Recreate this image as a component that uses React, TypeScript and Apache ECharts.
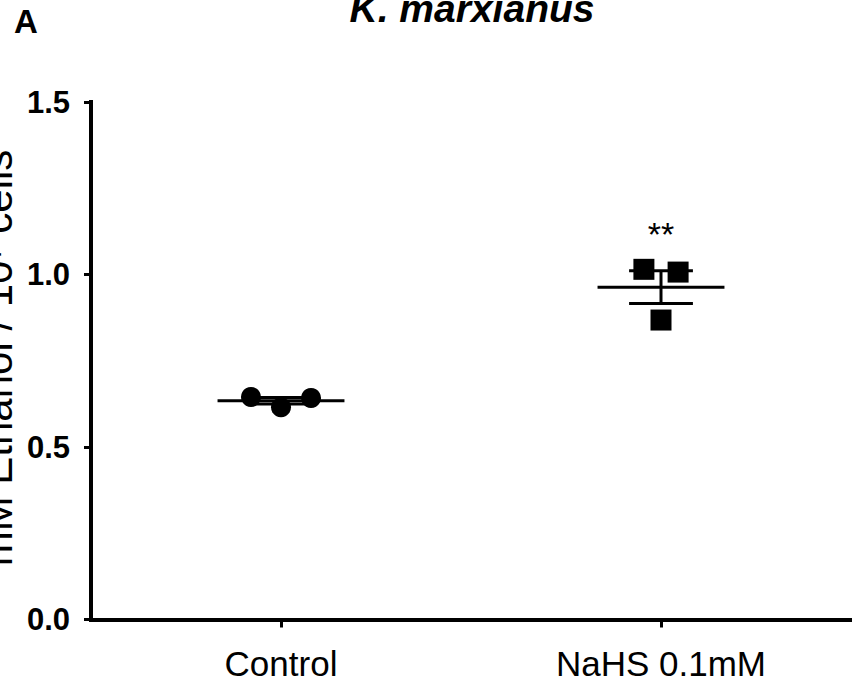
import React, { useEffect, useRef } from "react";
import * as echarts from "echarts";

const categories = ["Control", "NaHS 0.1mM"];
const controlValues = [0.645, 0.615, 0.642];
const nahsValues = [1.015, 1.007, 0.868];
const controlJitter = [-0.079, 0, 0.079];
const nahsJitter = [-0.045, 0.045, 0];
const significance = ["", "**"];
const significanceY = [0, 1.117];
const yTicks = [0, 0.5, 1.0, 1.5];

const FONT = '"Liberation Sans", Arial, sans-serif';

function meanSem(vals: number[]) {
  const n = vals.length;
  const m = vals.reduce((a, b) => a + b, 0) / n;
  const sd = Math.sqrt(vals.reduce((a, b) => a + (b - m) * (b - m), 0) / (n - 1));
  return [m, sd / Math.sqrt(n)];
}

export default function App() {
  const ref = useRef<HTMLDivElement>(null);
  useEffect(() => {
    document.body.style.margin = "0";
    const chart = echarts.init(ref.current!, null, { renderer: "svg" });
    const groups = [controlValues, nahsValues];
    const summary = groups.map((g, i) => {
      const [m, s] = meanSem(g);
      return [i, m, s];
    });
    chart.setOption({
      animation: false,
      grid: { left: 91, right: 1, top: 102, bottom: 64.5, containLabel: false },
      xAxis: [
        {
          type: "category",
          data: categories,
          boundaryGap: true,
          axisLine: { show: true, onZero: false, lineStyle: { color: "#000", width: 4, cap: "square" } },
          axisTick: { show: true, alignWithLabel: true, length: 8, lineStyle: { color: "#000", width: 3 } },
          axisLabel: { color: "#000", fontSize: 35, fontFamily: FONT, margin: 26 },
          splitLine: { show: false },
        },
        { type: "value", min: -0.5, max: 1.5, show: false },
      ],
      yAxis: {
        type: "value",
        min: yTicks[0],
        max: yTicks[yTicks.length - 1],
        interval: 0.5,
        axisLine: { show: true, onZero: false, lineStyle: { color: "#000", width: 4, cap: "square" } },
        axisTick: { show: true, length: 7, lineStyle: { color: "#000", width: 3 } },
        axisLabel: {
          color: "#000",
          fontSize: 31,
          fontWeight: "bold",
          fontFamily: FONT,
          margin: 21,
          formatter: (v: number) => v.toFixed(1),
        },
        splitLine: { show: false },
      },
      graphic: [
        {
          type: "text",
          x: 18,
          y: 358,
          rotation: Math.PI / 2,
          style: {
            text: "mM Ethanol / 10\u2077 cells",
            fontSize: 42,
            fontFamily: FONT,
            fill: "#000",
            align: "center",
            verticalAlign: "bottom",
          },
        },
        {
          type: "text",
          x: 472,
          y: 28,
          style: {
            text: "K. marxianus",
            fontSize: 39,
            fontWeight: "bold",
            fontStyle: "italic",
            fontFamily: FONT,
            fill: "#000",
            align: "center",
            verticalAlign: "bottom",
          },
        },
        {
          type: "text",
          x: 14,
          y: 38,
          style: {
            text: "A",
            fontSize: 33,
            fontWeight: "bold",
            fontFamily: FONT,
            fill: "#000",
            align: "left",
            verticalAlign: "bottom",
          },
        },
      ],
      series: [
        {
          type: "custom",
          xAxisIndex: 1,
          yAxisIndex: 0,
          data: summary,
          z: 1,
          renderItem: (params: any, api: any) => {
            const x = api.value(0);
            const m = api.value(1);
            const s = api.value(2);
            const halfMean = 0.167;
            const halfCap = 0.084;
            const l = api.coord([x - halfMean, m]);
            const r = api.coord([x + halfMean, m]);
            const t = api.coord([x, m + s]);
            const b = api.coord([x, m - s]);
            const tl = api.coord([x - halfCap, m + s]);
            const tr = api.coord([x + halfCap, m + s]);
            const bl = api.coord([x - halfCap, m - s]);
            const br = api.coord([x + halfCap, m - s]);
            const style = { stroke: "#000", lineWidth: 3 };
            return {
              type: "group",
              children: [
                { type: "line", shape: { x1: l[0], y1: l[1], x2: r[0], y2: r[1] }, style },
                { type: "line", shape: { x1: t[0], y1: t[1], x2: b[0], y2: b[1] }, style },
                { type: "line", shape: { x1: tl[0], y1: tl[1], x2: tr[0], y2: tr[1] }, style },
                { type: "line", shape: { x1: bl[0], y1: bl[1], x2: br[0], y2: br[1] }, style },
              ],
            };
          },
        },
        {
          type: "scatter",
          xAxisIndex: 1,
          z: 3,
          symbol: "circle",
          symbolSize: 20,
          itemStyle: { color: "#000", opacity: 1 },
          data: controlValues.map((v, i) => [0 + controlJitter[i], v]),
        },
        {
          type: "scatter",
          xAxisIndex: 1,
          z: 3,
          symbol: "rect",
          symbolSize: 21,
          itemStyle: { color: "#000", opacity: 1 },
          data: nahsValues.map((v, i) => [1 + nahsJitter[i], v]),
        },
        {
          type: "scatter",
          xAxisIndex: 1,
          z: 4,
          symbolSize: 0,
          itemStyle: { opacity: 1 },
          data: significance
            .map((s, i) => ({ value: [i, significanceY[i]], name: s }))
            .filter((d) => d.name !== ""),
          label: {
            show: true,
            position: "inside",
            formatter: (p: any) => p.name,
            color: "#000",
            fontSize: 34,
            fontFamily: FONT,
          },
        },
      ],
    });
    return () => chart.dispose();
  }, []);
  return <div ref={ref} style={{ width: 852, height: 684 }} />;
}
